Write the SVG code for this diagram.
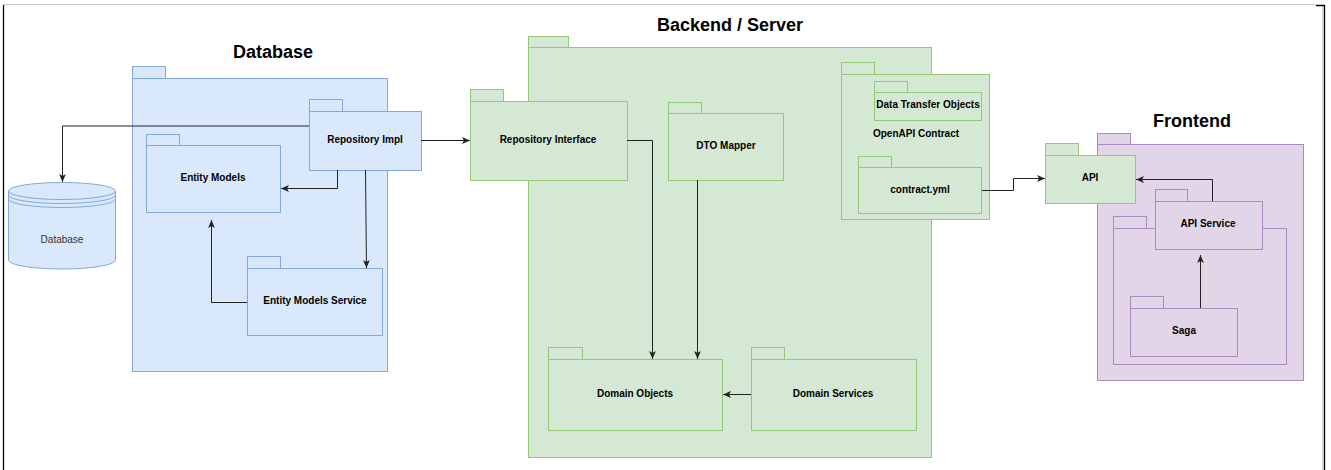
<svg xmlns="http://www.w3.org/2000/svg" width="1331" height="470" viewBox="0 0 1331 470">
  <defs>
    <style>
      text { font-family: "Liberation Sans", Arial, sans-serif; fill: #000; }
      .title { font-size: 18px; font-weight: bold; text-anchor: middle; }
      .lbl { font-size: 10px; font-weight: bold; text-anchor: middle; }
      .plain { font-size: 10px; text-anchor: middle; fill: #333; }
      .blue rect, .blue path { fill: #dae8fc; stroke: #82a8dd; stroke-width: 1; }
      .green rect { fill: #d5e8d4; stroke: #95c97a; stroke-width: 1; }
      .purple rect { fill: #e1d5e7; stroke: #ac8ac0; stroke-width: 1; }
      .edge { fill: none; stroke: #222; stroke-width: 1; }
      .frame { fill: none; stroke-width: 1.3; }
    </style>
    <marker id="arrow" viewBox="0 0 8 8" refX="8" refY="4" markerWidth="8" markerHeight="8" orient="auto" markerUnits="userSpaceOnUse">
      <path d="M0,0.6 L8,4 L0,7.4 L2,4 Z" fill="#222"/>
    </marker>
  </defs>

  <rect x="0" y="0" width="1331" height="470" fill="#fff"/>

  <!-- page frame -->
  <g id="frame">
    <line x1="3" y1="4.5" x2="1316" y2="4.5" stroke="#c8c8c8" stroke-width="1.2"/>
    <line x1="3.5" y1="5" x2="3.5" y2="470" class="frame" stroke="#000"/>
    <line x1="1322.8" y1="6" x2="1322.8" y2="470" stroke="#c8c8c8" stroke-width="1"/>
    <path d="M1316,5.5 H1324.5 V470" class="frame" stroke="#000"/>
  </g>

  <!-- section titles -->
  <text class="title" x="273" y="58">Database</text>
  <text class="title" x="730" y="31">Backend / Server</text>
  <text class="title" x="1192" y="126.5">Frontend</text>

  <!-- Database side -->
  <g id="database-package" class="blue">
    <rect x="132.5" y="66.5" width="33" height="12"/>
    <rect x="132.5" y="78.5" width="255" height="293"/>
  </g>

  <g id="database-store" class="blue">
    <path d="M8.5,191 A53.5,8.5 0 0 1 115.5,191 V260 A53.5,9 0 0 1 8.5,260 Z"/>
    <path d="M8.5,191 A53.5,8.5 0 0 0 115.5,191 M8.5,195 A53.5,8.5 0 0 0 115.5,195 M8.5,199 A53.5,8.5 0 0 0 115.5,199" style="fill:none"/>
    <text class="plain" x="62" y="242.5">Database</text>
  </g>

  <g id="entity-models" class="blue">
    <rect x="146.5" y="134.5" width="33" height="11"/>
    <rect x="146.5" y="145.5" width="134" height="67"/>
    <text class="lbl" x="213" y="181">Entity Models</text>
  </g>

  <g id="repository-impl" class="blue">
    <rect x="309.5" y="99.5" width="33" height="12"/>
    <rect x="309.5" y="111.5" width="112" height="59"/>
    <text class="lbl" x="365" y="143">Repository Impl</text>
  </g>

  <g id="entity-models-service" class="blue">
    <rect x="247.5" y="256.5" width="33" height="12"/>
    <rect x="247.5" y="268.5" width="135" height="67"/>
    <text class="lbl" x="315" y="304">Entity Models Service</text>
  </g>

  <!-- Backend side -->
  <g id="backend-package" class="green">
    <rect x="528.5" y="36.5" width="40" height="11"/>
    <rect x="528.5" y="47.5" width="403" height="410"/>
  </g>

  <g id="repository-interface" class="green">
    <rect x="470.5" y="89.5" width="33" height="12"/>
    <rect x="470.5" y="101.5" width="157" height="79"/>
    <text class="lbl" x="548" y="143">Repository Interface</text>
  </g>

  <g id="dto-mapper" class="green">
    <rect x="668.5" y="102.5" width="33" height="11"/>
    <rect x="668.5" y="113.5" width="115" height="67"/>
    <text class="lbl" x="726" y="149">DTO Mapper</text>
  </g>

  <g id="openapi-contract" class="green">
    <rect x="841.5" y="62.5" width="33" height="12"/>
    <rect x="841.5" y="74.5" width="148" height="145"/>
    <text class="lbl" x="916" y="136.5">OpenAPI Contract</text>
  </g>

  <g id="data-transfer-objects" class="green">
    <rect x="874.5" y="81.5" width="33" height="11"/>
    <rect x="874.5" y="92.5" width="107" height="28"/>
    <text class="lbl" x="928" y="107.5">Data Transfer Objects</text>
  </g>

  <g id="contract-yml" class="green">
    <rect x="858.5" y="156.5" width="33" height="11"/>
    <rect x="858.5" y="167.5" width="123" height="46"/>
    <text class="lbl" x="920" y="192.5">contract.yml</text>
  </g>

  <g id="domain-objects" class="green">
    <rect x="548.5" y="347.5" width="34" height="12"/>
    <rect x="548.5" y="359.5" width="174" height="71"/>
    <text class="lbl" x="635" y="396.5">Domain Objects</text>
  </g>

  <g id="domain-services" class="green">
    <rect x="751.5" y="347.5" width="33" height="12"/>
    <rect x="751.5" y="359.5" width="165" height="71"/>
    <text class="lbl" x="833" y="396.5">Domain Services</text>
  </g>

  <!-- Frontend side -->
  <g id="frontend-package" class="purple">
    <rect x="1097.5" y="133.5" width="33" height="11"/>
    <rect x="1097.5" y="144.5" width="206" height="236"/>
  </g>

  <g id="frontend-inner" class="purple">
    <rect x="1113.5" y="216.5" width="33" height="12"/>
    <rect x="1113.5" y="228.5" width="173" height="136"/>
  </g>

  <g id="api" class="green">
    <rect x="1045.5" y="143.5" width="33" height="12"/>
    <rect x="1045.5" y="155.5" width="90" height="48"/>
    <text class="lbl" x="1090" y="180.5">API</text>
  </g>

  <g id="api-service" class="purple">
    <rect x="1155.5" y="189.5" width="32" height="12"/>
    <rect x="1155.5" y="201.5" width="107" height="48"/>
    <text class="lbl" x="1208" y="226.5">API Service</text>
  </g>

  <g id="saga" class="purple">
    <rect x="1130.5" y="296.5" width="33" height="12"/>
    <rect x="1130.5" y="308.5" width="107" height="48"/>
    <text class="lbl" x="1184" y="333.5">Saga</text>
  </g>

  <!-- dependencies -->
  <g id="connectors">
    <path class="edge" marker-end="url(#arrow)" d="M309,126 H62.5 V182"/>
    <path class="edge" marker-end="url(#arrow)" d="M337.5,170 V188.5 H281"/>
    <path class="edge" marker-end="url(#arrow)" d="M365.5,170 L366.5,268"/>
    <path class="edge" marker-end="url(#arrow)" d="M247,302.5 H211.5 V220"/>
    <path class="edge" marker-end="url(#arrow)" d="M421,140.5 H470"/>
    <path class="edge" marker-end="url(#arrow)" d="M627,140.5 H652.5 V359"/>
    <path class="edge" marker-end="url(#arrow)" d="M697.5,180 V359"/>
    <path class="edge" marker-end="url(#arrow)" d="M751,394.5 H723"/>
    <path class="edge" marker-end="url(#arrow)" d="M982,190.5 H1013.5 V178.5 H1045"/>
    <path class="edge" marker-end="url(#arrow)" d="M1212.5,201 V179.5 H1136"/>
    <path class="edge" marker-end="url(#arrow)" d="M1200.5,308 V255"/>
  </g>
</svg>
